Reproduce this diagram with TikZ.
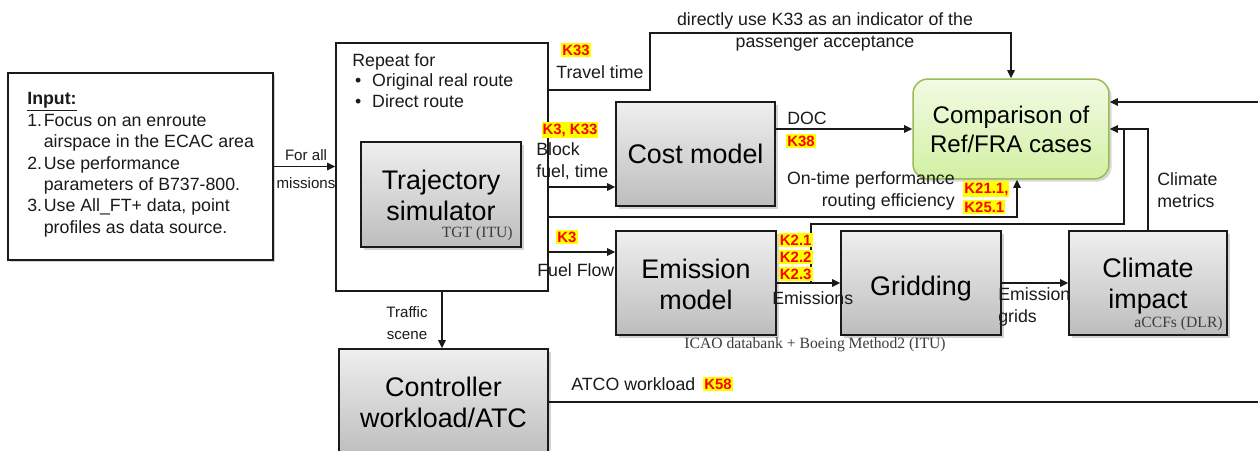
\documentclass[tikz,border=0pt]{standalone}
\usepackage{fontspec}
\setmainfont{Liberation Sans}
\newfontfamily\serifl{Liberation Serif}
\usetikzlibrary{arrows.meta,shadows,calc}
\definecolor{boxtop}{HTML}{EFEFEF}
\definecolor{boxbot}{HTML}{BDBDBD}
\definecolor{cmptop}{HTML}{F2FBE4}
\definecolor{cmpbot}{HTML}{D2F0A2}
\definecolor{cmpedge}{HTML}{9BBB59}
\definecolor{klred}{HTML}{FF0000}
\definecolor{klyel}{HTML}{FFFF00}
\definecolor{ink}{HTML}{1A1A1A}
\newcommand\fBig{\fontsize{15.3pt}{17.6pt}\selectfont}
\newcommand\fCmp{\fontsize{13.7pt}{16.6pt}\selectfont}
\newcommand\fSm{\fontsize{10.1pt}{12.4pt}\selectfont}
\newcommand\fSmall{\fontsize{8.6pt}{12.4pt}\selectfont}
\newcommand\fK{\fontsize{8.5pt}{10pt}\selectfont\bfseries}
\newcommand\fSer{\serifl\fontsize{8.9pt}{10pt}\selectfont}
\tikzset{
  framebox/.style={draw=ink, line width=0.85pt, fill=white, inner sep=0pt},
  shadowbox/.style={framebox, drop shadow={shadow xshift=1.2pt, shadow yshift=-1.2pt, opacity=0.35}},
  graybox/.style={draw=ink, line width=0.85pt, top color=boxtop, bottom color=boxbot,
    drop shadow={shadow xshift=1.5pt, shadow yshift=-1.5pt, opacity=0.35},
    align=center, font=\fBig, inner sep=0pt},
  cmpbox/.style={draw=cmpedge, line width=0.85pt, rounded corners=0.3cm, top color=cmptop, bottom color=cmpbot,
    drop shadow={shadow xshift=1.5pt, shadow yshift=-1.5pt, opacity=0.3},
    align=center, font=\fCmp, inner sep=0pt},
  lbl/.style={inner sep=0pt, font=\fSm, text=ink},
  klab/.style={fill=klyel, text=klred, font=\fK, inner xsep=0.6pt, inner ysep=1pt},
  serlab/.style={inner sep=0pt, font=\fSer, text=ink!85},
  conn/.style={draw=ink, line width=0.85pt},
  arr/.style={conn, -{Triangle[length=4.6pt,width=4.2pt]}}
}
\begin{document}
\begin{tikzpicture}[x=0.02cm,y=-0.02cm]
\useasboundingbox (0,0) rectangle (1258,450);
\fill[white] (0,0) rectangle (1258,450);
\clip (0,0) rectangle (1258,450);

% boxes
\node[shadowbox, minimum width=5.3cm, minimum height=3.74cm] (inp) at (140.5,166.5) {};
\node[framebox, minimum width=4.24cm, minimum height=4.96cm] (rep) at (442,167) {};
\node[graybox, minimum width=3.2cm, minimum height=2.1cm] (traj) at (441,194.5) {\rule{0pt}{12.5pt}Trajectory\\simulator};
\node[graybox, minimum width=3.18cm, minimum height=2.08cm] (cost) at (695.5,154) {Cost model};
\node[cmpbox, minimum width=3.92cm, minimum height=2cm] (comp) at (1011,129) {Comparison of\\Ref/FRA cases};
\node[graybox, minimum width=3.2cm, minimum height=2.08cm] (emis) at (696,283) {\rule{0pt}{12.5pt}Emission\\model};
\node[graybox, minimum width=3.2cm, minimum height=2.08cm] (grid) at (921,283) {\rule{0pt}{17.4pt}Gridding};
\node[graybox, minimum width=3.16cm, minimum height=2.08cm] (clim) at (1148,283) {\rule{0pt}{14.6pt}Climate\\impact};
\node[graybox, minimum width=4.18cm, minimum height=2.14cm] (ctrl) at (443.5,402.5) {Controller\\workload/ATC};

% input text
\node[lbl, anchor=base west] (inptxt) at (27,104) {\fontsize{10.1pt}{12.2pt}\selectfont
\begin{tabular}[t]{@{}p{9.4pt}@{}l@{}}
\multicolumn{2}{@{}l@{}}{\textbf{\underline{Input:}}}\\
1.&Focus on an enroute\\
&airspace in the ECAC area\\
2.&Use performance\\
&parameters of B737-800.\\
3.&Use All\_FT+ data, point\\
&profiles as data source.
\end{tabular}};

% repeat text
\node[lbl, anchor=base west] (reptxt) at (352,66) {\fontsize{10.1pt}{11.9pt}\selectfont
\begin{tabular}[t]{@{}p{11.3pt}@{}l@{}}
\multicolumn{2}{@{}l@{}}{Repeat for}\\
\hspace{1.6pt}\textbullet&Original real route\\
\hspace{1.6pt}\textbullet&Direct route
\end{tabular}};

% sub labels
\node[serlab, anchor=east] (tgt) at (513,234) {TGT (ITU)};
\node[serlab, anchor=east] (accf) at (1223,324) {aCCFs (DLR)};
\node[serlab] (icao) at (815,345) {ICAO databank + Boeing Method2 (ITU)};

% connectors
\draw[arr] (inp.east) -- (rep.west |- inp.east);
\node[lbl, font=\fSmall] (forall) at (306,155) {For all};
\node[lbl, font=\fSmall] (missions) at (306,183) {missions};

\coordinate (tt1) at (650,90);
\coordinate (tt2) at (650,33);
\draw[arr] (rep.east |- tt1) -- (tt1) -- (tt2) -- (comp.north |- tt2) -- (comp.north);
\node[klab] (k33a) at (576,50) {K33};
\node[lbl, anchor=west] (ttime) at (556,72) {Travel time};
\node[lbl, align=center] (direct) at (825,32) {directly use K33 as an indicator of the\\passenger acceptance};

\coordinate (bf) at (0,187);
\draw[arr] (rep.east |- bf) -- (cost.west |- bf);
\node[klab] (k3k33) at (570,130) {K3, K33};
\node[lbl, anchor=west, align=left] (block) at (536,161) {Block\\fuel, time};

\draw[arr] (cost.east |- comp.west) -- (comp.west);
\node[lbl, anchor=west] (doc) at (787,118) {DOC};
\node[klab] (k38) at (801,141) {K38};

\coordinate (ot1) at (1017,217);
\draw[arr] (rep.east |- ot1) -- (ot1) -- ($(comp.south)+(6,0)$);
\node[lbl, anchor=east, align=right] (ontime) at (955,191) {On-time performance\\routing efficiency};
\node[klab, anchor=west] (k211) at (963,189) {K21.1,};
\node[klab, anchor=west] (k251) at (963,207) {K25.1};

\coordinate (ff) at (0,252);
\draw[arr] (rep.east |- ff) -- (emis.west |- ff);
\node[klab, anchor=west] (k3b) at (556,237) {K3};
\node[lbl, anchor=west] (fuelflow) at (537,270) {Fuel Flow};

\draw[arr] (emis.east) -- (grid.west);
\coordinate (br0) at (811,283);
\coordinate (br1) at (811,224);
\coordinate (br2) at (1124,224);
\coordinate (br3) at (1124,129);
\draw[conn] (br0) -- (br1) -- (br2) -- (br3);
\node[klab, anchor=west] (k21) at (778.5,240) {K2.1};
\node[klab, anchor=west] (k22) at (778.5,257) {K2.2};
\node[klab, anchor=west] (k23) at (778.5,274) {K2.3};
\node[lbl, anchor=west] (emissions) at (772,298) {Emissions};

\draw[arr] (grid.east) -- (clim.west);
\node[lbl, anchor=west, align=left] (egrids) at (998,307) {Emission\\grids};

\draw[arr] (clim.north) -- (clim.north |- comp.east) -- (comp.east);
\node[lbl, anchor=west, align=left] (cmetric) at (1157,190) {Climate\\metrics};

\coordinate (redge) at (1258,102);
\draw[arr] (redge) -- (comp.east |- redge);

\draw[arr] (rep.south) -- (rep.south |- ctrl.north);
\node[lbl, font=\fSmall, align=center] (traffic) at (407,323) {Traffic\\scene};

\coordinate (atco) at (1258,402);
\draw[conn] (ctrl.east |- atco) -- (atco);
\node[lbl, anchor=west] (atcotxt) at (571,384) {ATCO workload};
\node[klab] (k58) at (718,384) {K58};
\end{tikzpicture}
\end{document}
